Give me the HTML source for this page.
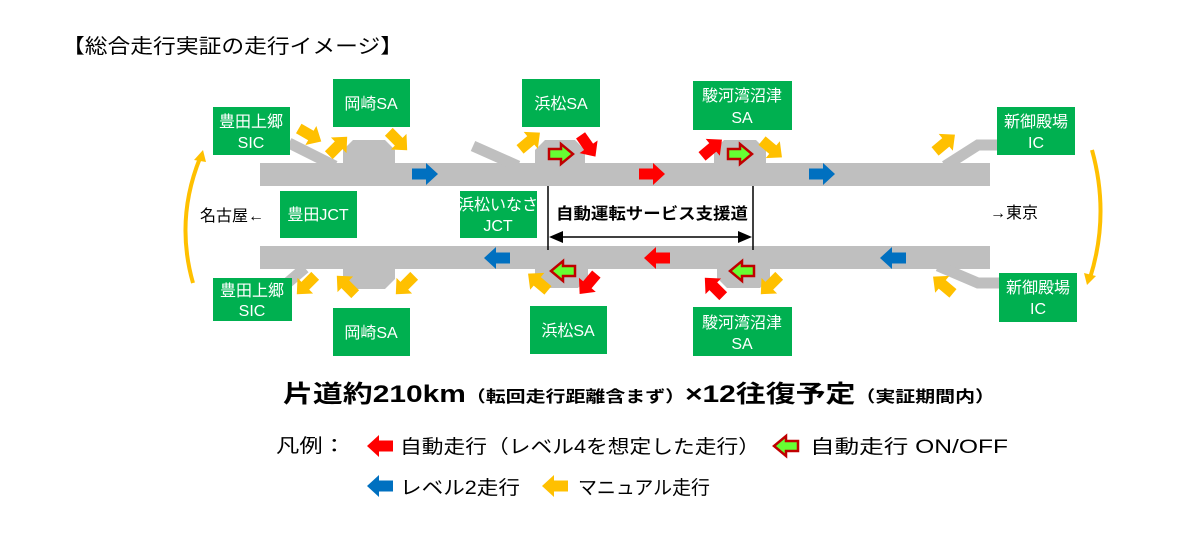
<!DOCTYPE html>
<html><head><meta charset="utf-8"><style>
html,body{margin:0;padding:0;background:#fff;}
svg{display:block;font-family:"Liberation Sans","Noto Sans CJK JP",sans-serif;}
.w{fill:#fff;font-size:16px;text-anchor:middle;}
</style></head><body>
<svg width="1200" height="560" viewBox="0 0 1200 560" xmlns="http://www.w3.org/2000/svg">
<defs>
<polygon id="a" points="-13,-5.5 1,-5.5 1,-11 13,0 1,11 1,5.5 -13,5.5"/>
<polygon id="g" points="-12,-5 0,-5 0,-10 12,0 0,10 0,5 -12,5" fill="#66ff33" stroke="#c00000" stroke-width="2.5"/>
</defs>
<text x="62" y="53" font-size="20" fill="#000" textLength="341" lengthAdjust="spacingAndGlyphs">【総合走行実証の走行イメージ】</text>

<g fill="#bfbfbf" stroke="none">
<rect x="260" y="163" width="730" height="23"/>
<rect x="260" y="246" width="730" height="23"/>
<polygon points="343,150 353,140 385,140 395,150 395,163 343,163"/>
<polygon points="343,269 395,269 395,279 385,289 353,289 343,279"/>
<polygon points="535,150 545,140 575,140 585,150 585,163 535,163"/>
<polygon points="535,269 588,269 588,278 578,288 545,288 535,278"/>
<polygon points="714,150 724,140 756,140 766,150 766,163 714,163"/>
<polygon points="717,269 770,269 770,278 760,288 727,288 717,278"/>
</g>
<g stroke="#bfbfbf" stroke-width="11" fill="none">
<path d="M289,143 L335,166"/>
<path d="M473,146 L518,166"/>
<path d="M945,166 L978,145 L998,145"/>
<path d="M285,285 L305,268"/>
<path d="M938,266 L978,283 L1000,283"/>
</g>

<g fill="#00b050">
<rect x="213" y="107" width="77" height="48"/>
<rect x="333" y="79" width="77" height="48"/>
<rect x="522" y="79" width="78" height="48"/>
<rect x="693" y="81" width="99" height="49"/>
<rect x="997" y="107" width="78" height="48"/>
<rect x="280" y="191" width="77" height="47"/>
<rect x="460" y="191" width="77" height="47"/>
<rect x="213" y="278" width="79" height="43"/>
<rect x="333" y="308" width="77" height="48"/>
<rect x="530" y="306" width="77" height="48"/>
<rect x="693" y="307" width="99" height="49"/>
<rect x="999" y="273" width="78" height="49"/>
</g>
<g class="w">
<text x="251" y="127">豊田上郷</text><text x="251" y="148">SIC</text>
<text x="371" y="109">岡崎SA</text>
<text x="561" y="109">浜松SA</text>
<text x="742" y="101">駿河湾沼津</text><text x="742" y="123">SA</text>
<text x="1036" y="127">新御殿場</text><text x="1036" y="148">IC</text>
<text x="318" y="220">豊田JCT</text>
<text x="498" y="210">浜松いなさ</text><text x="498" y="231">JCT</text>
<text x="252" y="296">豊田上郷</text><text x="252" y="316">SIC</text>
<text x="371" y="338">岡崎SA</text>
<text x="568" y="336">浜松SA</text>
<text x="742" y="328">駿河湾沼津</text><text x="742" y="349">SA</text>
<text x="1038" y="293">新御殿場</text><text x="1038" y="314">IC</text>
</g>
<text x="200" y="221" font-size="16">名古屋←</text>
<text x="990" y="218" font-size="16">→東京</text>

<line x1="548" y1="186" x2="548" y2="250" stroke="#000" stroke-width="1.5"/>
<line x1="753" y1="186" x2="753" y2="250" stroke="#000" stroke-width="1.5"/>
<line x1="560" y1="237" x2="741" y2="237" stroke="#000" stroke-width="1.5"/>
<polygon points="549,237 563,231 563,243" fill="#000"/>
<polygon points="752,237 738,231 738,243" fill="#000"/>
<text x="556" y="219" font-size="16" font-weight="bold" textLength="192" lengthAdjust="spacingAndGlyphs">自動運転サービス支援道</text>

<path d="M193,283 Q175,220 200,158" stroke="#ffc000" stroke-width="4" fill="none"/>
<polygon points="203,150 194,160 206,162" fill="#ffc000"/>
<path d="M1092,150 Q1110,215 1090,278" stroke="#ffc000" stroke-width="4" fill="none"/>
<polygon points="1087,285 1084,273 1096,276" fill="#ffc000"/>

<g fill="#ffc000">
<use href="#a" transform="translate(310,135) rotate(30)"/>
<use href="#a" transform="translate(338,146) rotate(-45)"/>
<use href="#a" transform="translate(398,141) rotate(45)"/>
<use href="#a" transform="translate(530,141) rotate(-40)"/>
<use href="#a" transform="translate(772,149) rotate(40)"/>
<use href="#a" transform="translate(945,143) rotate(-40)"/>
<use href="#a" transform="translate(306,285) rotate(135)"/>
<use href="#a" transform="translate(346,285) rotate(-135)"/>
<use href="#a" transform="translate(405,285) rotate(135)"/>
<use href="#a" transform="translate(538,282) rotate(-140)"/>
<use href="#a" transform="translate(770,285) rotate(135)"/>
<use href="#a" transform="translate(943,285) rotate(-140)"/>
</g>
<g fill="#ff0000">
<use href="#a" transform="translate(588,146) rotate(55)"/>
<use href="#a" transform="translate(652,174)"/>
<use href="#a" transform="translate(712,148) rotate(-40)"/>
<use href="#a" transform="translate(588,284) rotate(130)"/>
<use href="#a" transform="translate(657,258) rotate(180)"/>
<use href="#a" transform="translate(714,287) rotate(-135)"/>
</g>
<g fill="#0070c0">
<use href="#a" transform="translate(425,174)"/>
<use href="#a" transform="translate(822,174)"/>
<use href="#a" transform="translate(497,258) rotate(180)"/>
<use href="#a" transform="translate(893,258) rotate(180)"/>
</g>
<use href="#g" transform="translate(561,154)"/>
<use href="#g" transform="translate(740,154)"/>
<use href="#g" transform="translate(563,271) rotate(180)"/>
<use href="#g" transform="translate(742,271) rotate(180)"/>

<text x="283" y="402" font-size="24" font-weight="bold" textLength="712" lengthAdjust="spacingAndGlyphs">片道約210km<tspan font-size="16">（転回走行距離含まず）</tspan>×12往復予定<tspan font-size="16">（実証期間内）</tspan></text>

<text x="276" y="452" font-size="19" textLength="70" lengthAdjust="spacingAndGlyphs">凡例：</text>
<use href="#a" fill="#ff0000" transform="translate(380,446) rotate(180)"/>
<text x="400" y="453" font-size="19" textLength="360" lengthAdjust="spacingAndGlyphs">自動走行（レベル4を想定した走行）</text>
<use href="#g" transform="translate(786,446) rotate(180)"/>
<text x="810" y="453" font-size="19" textLength="198" lengthAdjust="spacingAndGlyphs">自動走行 ON/OFF</text>
<use href="#a" fill="#0070c0" transform="translate(380,486) rotate(180)"/>
<text x="400" y="494" font-size="19" textLength="120" lengthAdjust="spacingAndGlyphs">レベル2走行</text>
<use href="#a" fill="#ffc000" transform="translate(555,486) rotate(180)"/>
<text x="578" y="494" font-size="19" textLength="132" lengthAdjust="spacingAndGlyphs">マニュアル走行</text>
</svg>
</body></html>
